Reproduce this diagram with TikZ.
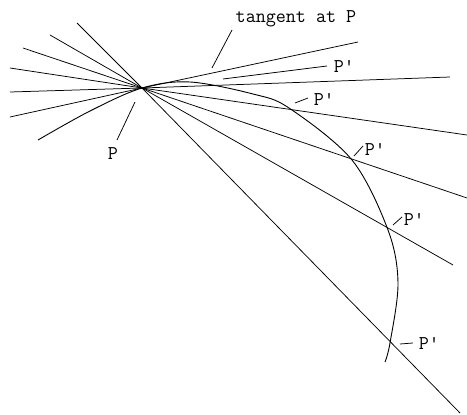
\documentclass[tikz,border=0pt]{standalone}
\usetikzlibrary{calc}
\begin{document}
\begin{tikzpicture}[x=1pt,y=-1pt,line width=0.75pt,
  lbl/.style={font=\ttfamily\fontsize{19.5}{22}\selectfont,inner sep=0pt},
  curve/.style={line width=0.9pt}]
\useasboundingbox (0,0) rectangle (467,415);
\coordinate (P) at (142,88);
% secant and tangent lines through P
\coordinate (a1) at (77,23);  \coordinate (b1) at (460,413);
\coordinate (a2) at (50,35);  \coordinate (b2) at (453,265);
\coordinate (a3) at (23,48);  \coordinate (b3) at (467,198);
\coordinate (a4) at (10,68);  \coordinate (b4) at (467,135);
\coordinate (a5) at (10,92);  \coordinate (b5) at (450,77);
\coordinate (a6) at (10,117); \coordinate (b6) at (358,42);
\coordinate (a7) at (223,79); \coordinate (b7) at (327,66);
\draw (a1) -- (P) -- (b1);
\draw (a2) -- (P) -- (b2);
\draw (a3) -- (P) -- (b3);
\draw (a4) -- (P) -- (b4);
\draw (a5) -- (P) -- (b5);
\draw (a6) -- (P) -- (b6);
\draw (a7) -- (b7);
% curve
\draw[curve] plot[smooth,tension=0.55] coordinates {(38,140) (90,111) (P) (190,82) (253,94) (289,108) (352,160) (388,230) (398,283) (390,343) (385,362)};
% labels
\node[lbl] (tl) at (296,19) {tangent at P};
\coordinate (tl1) at (232,30); \coordinate (tl2) at (212,68);
\draw (tl1) -- (tl2);
\node[lbl] (pl) at (113,154) {P};
\coordinate (pl1) at (135,102); \coordinate (pl2) at (117,140);
\draw (pl1) -- (pl2);
\node[lbl] (q1) at (344,66) {P\textquotesingle};
\node[lbl] (q2) at (324,99) {P\textquotesingle};
\coordinate (q2a) at (295,103); \coordinate (q2b) at (308,98);
\draw (q2a) -- (q2b);
\node[lbl] (q3) at (375,149) {P\textquotesingle};
\coordinate (q3a) at (354,156); \coordinate (q3b) at (363,146);
\draw (q3a) -- (q3b);
\node[lbl] (q4) at (414,219) {P\textquotesingle};
\coordinate (q4a) at (393,225); \coordinate (q4b) at (402,217);
\draw (q4a) -- (q4b);
\node[lbl] (q5) at (429,343) {P\textquotesingle};
\coordinate (q5a) at (400,344); \coordinate (q5b) at (413,343);
\draw (q5a) -- (q5b);
\end{tikzpicture}
\end{document}
